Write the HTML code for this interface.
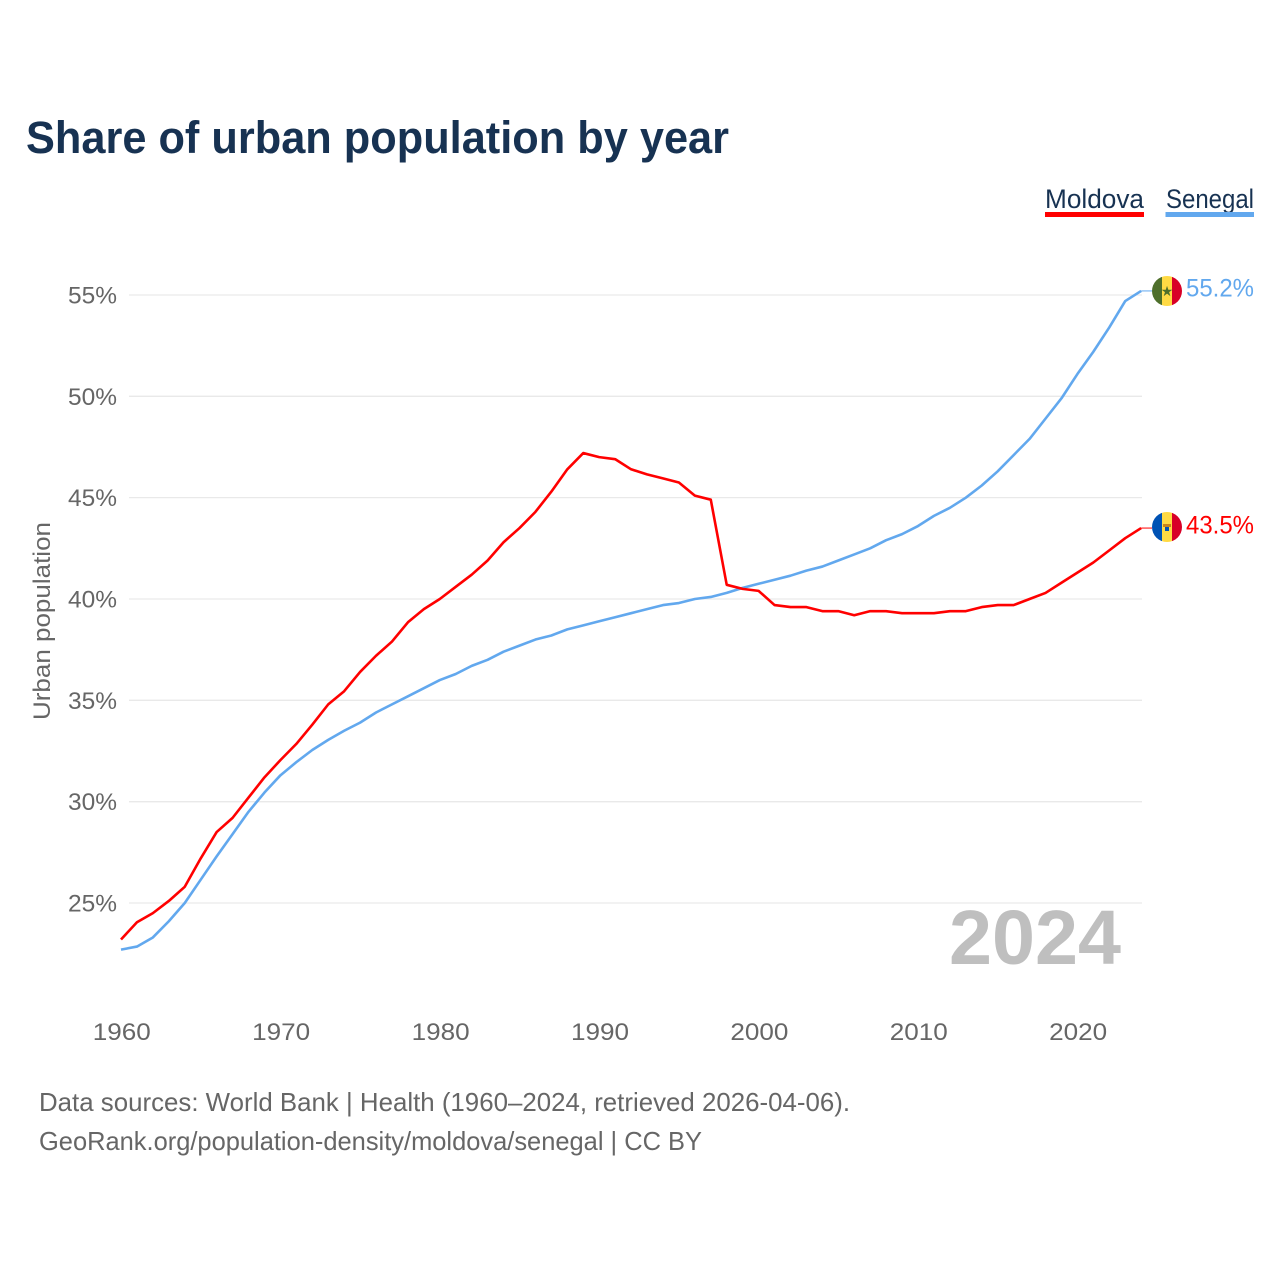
<!DOCTYPE html>
<html lang="en">
<head>
<meta charset="utf-8">
<title>Share of urban population by year</title>
<style>
html,body{margin:0;padding:0;background:#fff;width:1280px;height:1280px;overflow:hidden}
svg{display:block;font-family:"Liberation Sans",sans-serif}
</style>
</head>
<body>
<svg id="chart" xmlns="http://www.w3.org/2000/svg" width="1280" height="1280" viewBox="0 0 1280 1280">
<defs>
<clipPath id="flag-clip-sn"><circle cx="1167" cy="291" r="15"/></clipPath>
<clipPath id="flag-clip-md"><circle cx="1167" cy="527" r="15"/></clipPath>
</defs>
<text x="26" y="153" font-size="45" font-weight="700" fill="#173252" textLength="703" lengthAdjust="spacingAndGlyphs">Share of urban population by year</text>

<g>
<text x="1045" y="208" font-size="26.500" fill="#173252" textLength="99" lengthAdjust="spacingAndGlyphs">Moldova</text>
<rect x="1045" y="212" width="99" height="5" fill="#ff0000"/>
</g>
<g>
<text x="1166" y="208" font-size="26.500" fill="#173252" textLength="88" lengthAdjust="spacingAndGlyphs">Senegal</text>
<rect x="1165.500" y="212" width="88.500" height="5" fill="#62a8ee"/>
</g>

<g id="grid"></g>
<g id="y-ticks"></g>
<g id="x-ticks"></g>
<text transform="translate(50,720) rotate(-90)" font-size="24" fill="#666666" textLength="198" lengthAdjust="spacingAndGlyphs">Urban population</text>

<text x="949" y="964" font-size="77" font-weight="700" fill="#bfbfbf" textLength="172" lengthAdjust="spacingAndGlyphs">2024</text>

<g id="series"></g>

<g clip-path="url(#flag-clip-sn)">
<rect x="1152" y="276" width="10" height="30" fill="#4e6f2b"/>
<rect x="1162" y="276" width="10" height="30" fill="#ffda44"/>
<rect x="1172" y="276" width="10" height="30" fill="#d80027"/>
<text x="1167" y="296" font-size="14" text-anchor="middle" fill="#4e6f2b" font-family="DejaVu Sans, sans-serif">★</text>
</g>
<g clip-path="url(#flag-clip-md)">
<rect x="1152" y="512" width="10" height="30" fill="#0052b4"/>
<rect x="1162" y="512" width="10" height="30" fill="#ffda44"/>
<rect x="1172" y="512" width="10" height="30" fill="#d80027"/>
<rect x="1163" y="524" width="8" height="3" fill="#c8851b"/>
<rect x="1165" y="527" width="4" height="4" fill="#0052b4"/>
</g>

<g id="end-labels"></g>

<text x="39" y="1111" font-size="26" fill="#666666" textLength="811" lengthAdjust="spacingAndGlyphs">Data sources: World Bank | Health (1960–2024, retrieved 2026-04-06).</text>
<text x="39" y="1150" font-size="26" fill="#666666" textLength="663" lengthAdjust="spacingAndGlyphs">GeoRank.org/population-density/moldova/senegal | CC BY</text>
</svg>
<script>
const startYear = 1960;
const moldovaValues = [23.2,24.05,24.5,25.1,25.8,27.2,28.5,29.2,30.2,31.2,32.05,32.85,33.8,34.8,35.45,36.4,37.2,37.9,38.85,39.5,40,40.6,41.2,41.9,42.8,43.5,44.3,45.3,46.4,47.2,47,46.9,46.4,46.15,45.95,45.75,45.1,44.9,40.7,40.5,40.4,39.7,39.6,39.6,39.4,39.4,39.2,39.4,39.4,39.3,39.3,39.3,39.4,39.4,39.6,39.7,39.7,40,40.3,40.8,41.3,41.8,42.4,43,43.5];
const senegalValues = [22.7,22.85,23.3,24.1,25,26.15,27.3,28.4,29.5,30.45,31.3,31.95,32.55,33.05,33.5,33.9,34.4,34.8,35.2,35.6,36,36.3,36.7,37,37.4,37.7,38,38.2,38.5,38.7,38.9,39.1,39.3,39.5,39.7,39.8,40,40.1,40.3,40.55,40.75,40.95,41.15,41.4,41.6,41.9,42.2,42.5,42.9,43.2,43.6,44.1,44.5,45,45.6,46.3,47.1,47.9,48.9,49.9,51.1,52.2,53.4,54.7,55.2];
const yTickValues = [25,30,35,40,45,50,55];
const xTickValues = [1960,1970,1980,1990,2000,2010,2020];

const NS = 'http://www.w3.org/2000/svg';
function xScale(year){ return 121 + (year - 1960) * 15.94; }
function yScale(v){ return 903 - (v - 25) * 20.267; }
function make(tag, attrs, text){
  const el = document.createElementNS(NS, tag);
  for (const k in attrs) el.setAttribute(k, attrs[k]);
  if (text !== undefined) el.textContent = text;
  return el;
}
const gridG = document.getElementById('grid');
const yG = document.getElementById('y-ticks');
const xG = document.getElementById('x-ticks');
const seriesG = document.getElementById('series');
const endG = document.getElementById('end-labels');

yTickValues.forEach(function(v){
  const line = make('line', {x1:129, x2:1142, y1:yScale(v), y2:yScale(v), stroke:'#e9e9e9', 'stroke-width':1.3});
  
  
  gridG.appendChild(line);
  const t = make('text', {x:117, y:yScale(v)+8.5, 'font-size':24, fill:'#666666', 'text-anchor':'end', textLength:49, lengthAdjust:'spacingAndGlyphs'}, v + '%');
  
  
  yG.appendChild(t);
});

xTickValues.forEach(function(y){
  const t = make('text', {x:xScale(y)+0.8, y:1040, 'font-size':24, fill:'#666666', 'text-anchor':'middle', textLength:58, lengthAdjust:'spacingAndGlyphs'}, String(y));
  
  
  xG.appendChild(t);
});

function linePoints(values){
  return values.map(function(v, i){ return xScale(startYear + i).toFixed(2) + ',' + yScale(v).toFixed(2); }).join(' ');
}

const senegalLine = make('polyline', {points:linePoints(senegalValues), fill:'none', stroke:'#62a8ee', 'stroke-width':2.6, 'stroke-linejoin':'round'});


seriesG.appendChild(senegalLine);

const moldovaLine = make('polyline', {points:linePoints(moldovaValues), fill:'none', stroke:'#ff0000', 'stroke-width':2.6, 'stroke-linejoin':'round'});


seriesG.appendChild(moldovaLine);

const senLast = senegalValues[senegalValues.length - 1];
const senY = yScale(senLast);
const senTail = make('line', {x1:xScale(2024), x2:1152, y1:senY, y2:senY, stroke:'#62a8ee', 'stroke-width':1});


seriesG.appendChild(senTail);

const molLast = moldovaValues[moldovaValues.length - 1];
const molY = yScale(molLast);
const molTail = make('line', {x1:xScale(2024), x2:1152, y1:molY, y2:molY, stroke:'#ff0000', 'stroke-width':1});


seriesG.appendChild(molTail);

const senLabel = make('text', {x:1186, y:senY+5.5, 'font-size':25, fill:'#62a8ee', textLength:68, lengthAdjust:'spacingAndGlyphs'}, senLast.toFixed(1) + '%');


endG.appendChild(senLabel);

const molLabel = make('text', {x:1186, y:molY+5.5, 'font-size':25, fill:'#ff0000', textLength:68, lengthAdjust:'spacingAndGlyphs'}, molLast.toFixed(1) + '%');


endG.appendChild(molLabel);
</script>
</body>
</html>
